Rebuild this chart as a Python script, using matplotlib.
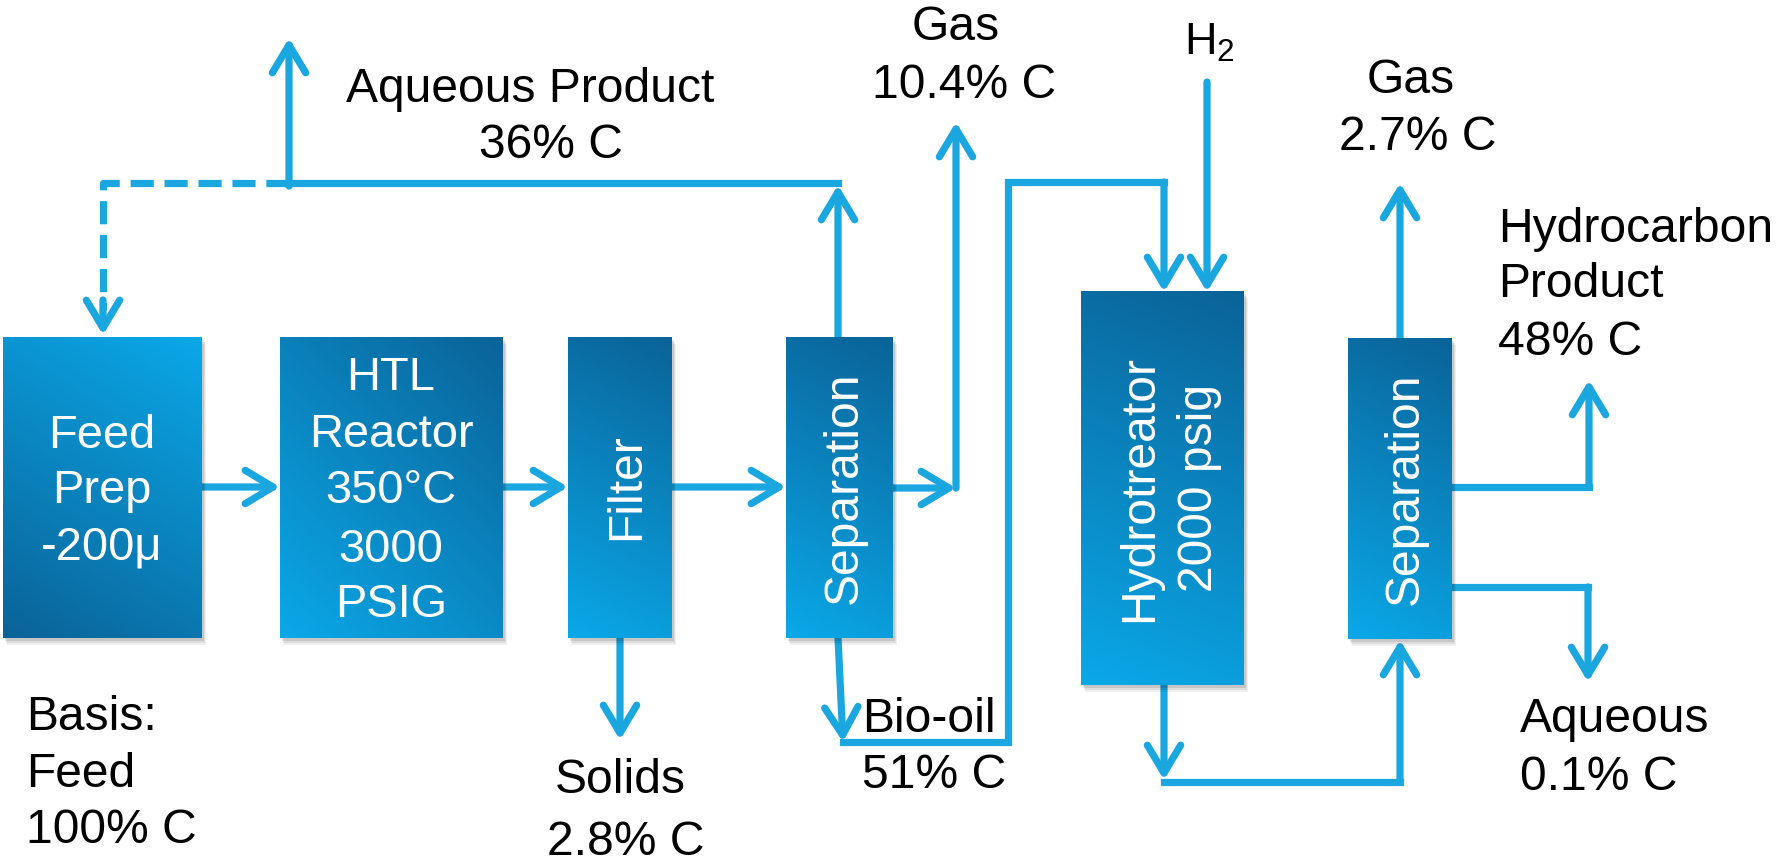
import matplotlib
matplotlib.use("Agg")
import matplotlib.pyplot as plt
import numpy as np
from matplotlib.colors import LinearSegmentedColormap
from matplotlib.patches import Rectangle, FancyArrowPatch

# ---------------- data ----------------
unit_ids = ["feed", "htl", "filter", "sep1", "hydro", "sep2"]
unit_text = [["Feed", "Prep", "-200\u03bc"],
             ["HTL", "Reactor", "350\u00b0C", "3000", "PSIG"],
             ["Filter"],
             ["Separation"],
             ["Hydrotreator", "2000 psig"],
             ["Separation"]]
stream_names = [["Aqueous Product"], ["Gas"], ["Solids"], ["Bio-oil"],
                ["Gas"], ["Hydrocarbon", "Product"], ["Aqueous"]]
stream_carbon = [36, 10.4, 2.8, 51, 2.7, 48, 0.1]
basis_lines = ["Basis:", "Feed"]
basis_carbon = 100
hydrogen_label = "H$_\\mathregular{2}$"

# ---------------- layout (pixels, y down) ----------------
W, H = 1778, 865
boxes = {"feed": (3, 337, 202, 638), "htl": (280, 337, 503, 638),
         "filter": (568, 337, 672, 638), "sep1": (786, 337, 893, 638),
         "hydro": (1081, 291, 1244, 685), "sep2": (1348, 338, 1452, 639)}
grad_dir = {"feed": (-0.6, 1.0), "htl": (1.0, -1.0), "filter": (0.5, -1.0),
            "sep1": (0.5, -1.0), "hydro": (0.4, -1.0), "sep2": (0.5, -1.0)}
# text placement inside boxes: (mode, x, [baselines or centre])
box_text_pos = {"feed": ("h", 102, [448, 503, 560]),
                "htl": ("h", 391, [390, 447, 503, 562, 617]),
                "filter": ("v", [639], 487),
                "sep1": ("v", [857], 488),
                "hydro": ("v", [1152, 1212], 488),
                "sep2": ("v", [1418], 489)}
# stream labels: (x, baselines, ha, x offsets per line)
label_pos = [(530, [102, 158], "center", [0, 21]),
             (956, [40, 98], "center", [0, 8]),
             (620, [793, 855], "center", [0, 6]),
             (862, [732, 788], "left", [0, 0]),
             (1411, [93, 150], "center", [0, 7]),
             (1498, [242, 297, 355], "left", [0, 0, 0]),
             (1520, [732, 790], "left", [0, 0])]

BLUE = "#1aa7e0"
LIGHT = "#0aa8e8"
DARK = "#0a6398"
LW = 5.2
FONT = "Liberation Sans"
PX = 0.72  # pt per px at dpi 100

fig = plt.figure(figsize=(W / 100, H / 100), dpi=100)
ax = fig.add_axes([0, 0, 1, 1])
ax.set_xlim(0, W)
ax.set_ylim(H, 0)
ax.axis("off")

cmap = LinearSegmentedColormap.from_list("box", [LIGHT, DARK])


def polyline(pts, dashed=False):
    xs, ys = zip(*pts)
    kw = dict(color=BLUE, lw=LW, solid_joinstyle="miter",
              solid_capstyle="projecting", zorder=2)
    if dashed:
        kw.update(linestyle=(0, (3.2, 1.5)), dash_capstyle="butt")
    ax.plot(xs, ys, **kw)


def arrow(p0, p1):
    a = FancyArrowPatch(p0, p1, arrowstyle="->,head_length=20,head_width=12",
                        mutation_scale=1, color=BLUE, lw=LW, shrinkA=0,
                        shrinkB=0, capstyle="round", joinstyle="round", zorder=2)
    ax.add_patch(a)


# ---------------- streams ----------------
# main train
arrow((202, 487), (280, 487))
arrow((503, 487), (568, 487))
arrow((672, 487), (786, 487))
# gas from separation 1
arrow((893, 488), (956, 488))
arrow((956, 488), (956, 122))
# aqueous product
arrow((838, 337), (838, 185))
polyline([(838, 183), (289, 183)])
arrow((289, 186), (289, 38))
polyline([(289, 183), (103, 183), (103, 310)], dashed=True)
arrow((103, 300), (103, 335))
# solids
arrow((620, 638), (620, 740))
# bio-oil route
arrow((838, 638), (843, 742))
polyline([(843, 742), (1008, 742), (1008, 182), (1164, 182)])
arrow((1164, 182), (1164, 292))
# hydrogen
arrow((1207, 82), (1207, 292))
# hydrotreater to separation 2
arrow((1164, 685), (1164, 780))
polyline([(1164, 782), (1400, 782)])
arrow((1400, 782), (1400, 640))
# separation 2 outputs
arrow((1400, 338), (1400, 183))
polyline([(1452, 487), (1589, 487)])
arrow((1589, 487), (1589, 380))
polyline([(1452, 587), (1588, 587)])
arrow((1588, 587), (1588, 682))

# ---------------- unit boxes ----------------
for uid, lines in zip(unit_ids, unit_text):
    x0, y0, x1, y1 = boxes[uid]
    for k, (dx, dy, a) in enumerate([(2, 3, 0.10), (3, 5, 0.08), (4, 7, 0.06)]):
        ax.add_patch(Rectangle((x0 + dx, y0 + dy), x1 - x0, y1 - y0,
                               color="black", alpha=a, lw=0, zorder=3))
    dx, dy = grad_dir[uid]
    n = 120
    u, v = np.meshgrid(np.linspace(0, 1, n), np.linspace(0, 1, n))
    t = u * dx * (x1 - x0) + v * dy * (y1 - y0)
    t = (t - t.min()) / (t.max() - t.min())
    ax.imshow(t, cmap=cmap, extent=(x0, x1, y1, y0), origin="upper",
              aspect="auto", zorder=4, interpolation="bilinear")
    mode, xp, yp = box_text_pos[uid]
    if mode == "h":
        for line, yb in zip(lines, yp):
            ax.text(xp, yb, line, color="white", fontsize=47 * PX, family=FONT,
                    ha="center", va="baseline", zorder=5)
    else:
        for line, xb in zip(lines, xp):
            ax.text(xb, yp, line, color="white", fontsize=48 * PX, family=FONT,
                    ha="center", va="baseline", rotation=90,
                    rotation_mode="anchor", zorder=5)

ax.set_xlim(0, W)
ax.set_ylim(H, 0)

# ---------------- labels ----------------
for name, pct, (x, bases, ha, offs) in zip(stream_names, stream_carbon, label_pos):
    texts = name + [f"{pct:g}% C"]
    for s, yb, o in zip(texts, bases, offs):
        ax.text(x + o, yb, s, fontsize=48 * PX, family=FONT, color="black",
                ha=ha, va="baseline", zorder=6)

for s, yb in zip(basis_lines + [f"{basis_carbon:g}% C"], [730, 787, 843]):
    ax.text(26, yb, s, fontsize=48 * PX, family=FONT, color="black",
            ha="left", va="baseline", zorder=6)

plt.rcParams["mathtext.fontset"] = "custom"
plt.rcParams["mathtext.rm"] = FONT
ax.text(1184, 55, hydrogen_label, fontsize=45 * PX, family=FONT, color="black",
        ha="left", va="baseline", zorder=6)

fig.savefig("out.png", dpi=100)
